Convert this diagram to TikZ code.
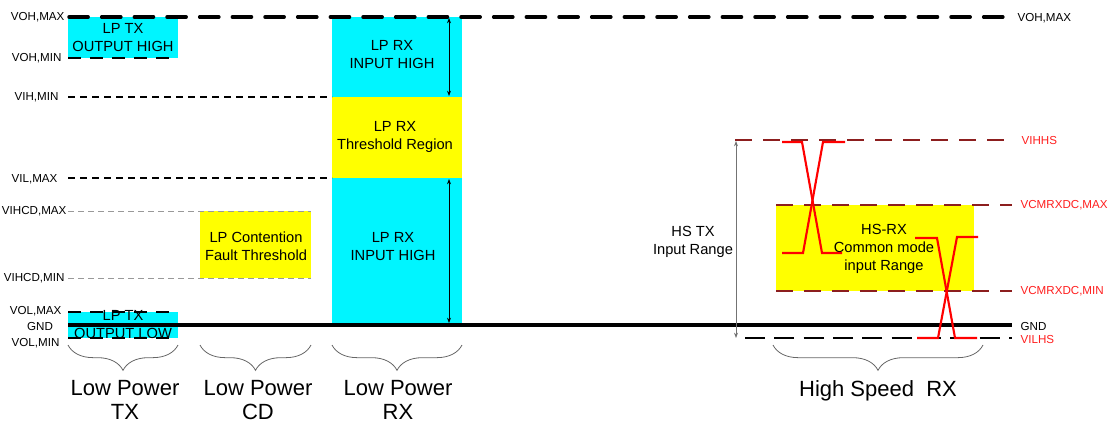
\documentclass[tikz,border=0pt]{standalone}
\usepackage{fontspec}
\setmainfont{Liberation Sans}
\usetikzlibrary{fit,decorations.pathreplacing,arrows.meta}
\definecolor{cy}{RGB}{0,245,255}
\definecolor{yl}{RGB}{255,255,0}
\definecolor{dred}{RGB}{140,30,30}
\definecolor{rlbl}{RGB}{255,30,30}
\definecolor{sig}{RGB}{255,0,0}
\begin{document}
\begin{tikzpicture}[x=0.75pt,y=-0.75pt,
  area/.style={inner sep=0pt,outer sep=0pt},
  cyanbox/.style={area,fill=cy},
  yellowbox/.style={area,fill=yl},
  boxtext/.style={inner sep=0pt,align=center,font=\fontsize{11}{13.5}\selectfont},
  lbl/.style={inner sep=1pt,font=\fontsize{8.7}{10}\selectfont},
  rlabel/.style={lbl,text=rlbl},
  biglbl/.style={inner sep=0pt,align=center,font=\fontsize{16.5}{18}\selectfont},
  thickdash/.style={line width=2.6pt,line cap=round,dash pattern=on 14.4pt off 10.1pt},
  meddash/.style={line width=1.4pt,dash pattern=on 10pt off 6.5pt},
  thindash/.style={line width=1pt,dash pattern=on 5pt off 4pt},
  graydash/.style={line width=0.6pt,draw=black!40,dash pattern=on 4.5pt off 3pt},
  reddash/.style={line width=1.2pt,draw=dred,dash pattern=on 13pt off 8pt},
  hsdash/.style={line width=1.9pt,dash pattern=on 15pt off 7pt},
  gndline/.style={line width=2.4pt},
  dimarrow/.style={line width=0.5pt,{Stealth[length=4pt,width=3pt]}-{Stealth[length=4pt,width=3pt]}},
  sigline/.style={line width=1.6pt,draw=sig},
  bracestyle/.style={line width=0.6pt,draw=black!60,decorate,decoration={brace,mirror,amplitude=19pt}}
]
\useasboundingbox (0,0) rectangle (1110,425);

% ---- boxes
\node[cyanbox,fit={(68,17)(178,58)}] (txhigh) {};
\node[boxtext] (txhight) at (123,38) {LP TX\\OUTPUT HIGH};
\node[cyanbox,fit={(68,312)(178,338)}] (txlow) {};
\node[yellowbox,fit={(200,211)(311,278)}] (cd) {};
\node[boxtext] (cdt) at (256,246) {LP Contention\\Fault Threshold};
\node[cyanbox,fit={(332,17)(462,97)}] (rxh1) {};
\node[yellowbox,fit={(332,97)(462,178)}] (rxth) {};
\node[cyanbox,fit={(332,178)(462,325)}] (rxh2) {};
\node[boxtext] (rxh1t) at (392,55) {LP RX\\INPUT HIGH};
\node[boxtext] (rxtht) at (395,137) {LP RX\\Threshold Region};
\node[boxtext] (rxh2t) at (393,247) {LP RX\\INPUT HIGH};
\node[yellowbox,fit={(776,205)(974,291)}] (hsbox) {};
\node[boxtext] (hsboxt) at (884,249) {HS-RX\\Common mode\\input Range};

% ---- level coordinates
\coordinate (ohmaxL) at (69,17);   \coordinate (ohmaxR) at (1012,17);
\coordinate (ohminL) at (68,58);   \coordinate (ohminR) at (178,58);
\coordinate (ihminL) at (68,97);   \coordinate (ihminR) at (332,97);
\coordinate (ilmaxL) at (68,178);  \coordinate (ilmaxR) at (332,178);
\coordinate (cdmaxL) at (68,211);  \coordinate (cdmaxR) at (311,211);
\coordinate (cdminL) at (68,278);  \coordinate (cdminR) at (311,278);
\coordinate (olmaxL) at (68,312);  \coordinate (olmaxR) at (178,312);
\coordinate (gndL) at (68,325);    \coordinate (gndR) at (1012,325);
\coordinate (olminL) at (68,338);  \coordinate (olminR) at (178,338);
\coordinate (ihhsL) at (735,140);  \coordinate (ihhsR) at (1012,140);
\coordinate (cmmaxL) at (776,205); \coordinate (cmmaxR) at (1012,205);
\coordinate (cmminL) at (776,291); \coordinate (cmminR) at (1012,291);
\coordinate (ilhsL) at (745,338);  \coordinate (ilhsR) at (1012,338);

% ---- low text under lines
\node[boxtext] (txlowt) at (123,325) {LP TX\\OUTPUT LOW};

% ---- level lines
\draw[thickdash] (ohmaxL) -- (ohmaxR);
\draw[meddash] (ohminL) -- (ohminR);
\draw[thindash] (ihminL) -- (ihminR);
\draw[thindash] (ilmaxL) -- (ilmaxR);
\draw[graydash] (cdmaxL) -- (cdmaxR);
\draw[graydash] (cdminL) -- (cdminR);
\draw[meddash] (olmaxL) -- (olmaxR);
\draw[meddash] (olminL) -- (olminR);
\draw[gndline] (gndL) -- (gndR);
\draw[reddash] (ihhsL) -- (ihhsR);
\draw[reddash] (cmmaxL) -- (cmmaxR);
\draw[reddash] (cmminL) -- (cmminR);
\draw[hsdash] (ilhsL) -- (ilhsR);

% ---- left labels
\node[lbl,anchor=east] (l1) at (66,17) {VOH,MAX};
\node[lbl,anchor=east] (l2) at (63,58) {VOH,MIN};
\node[lbl,anchor=east] (l3) at (60,97) {VIH,MIN};
\node[lbl,anchor=east] (l4) at (59,179) {VIL,MAX};
\node[lbl,anchor=east] (l5) at (68,211) {VIHCD,MAX};
\node[lbl,anchor=east] (l6) at (66,278) {VIHCD,MIN};
\node[lbl,anchor=east] (l7) at (63,311) {VOL,MAX};
\node[lbl] (l8) at (40,327) {GND};
\node[lbl,anchor=east] (l9) at (61,343) {VOL,MIN};

% ---- right labels
\node[lbl,anchor=west] (r1) at (1016,18) {VOH,MAX};
\node[rlabel,anchor=west] (r2) at (1020,141) {VIHHS};
\node[rlabel,anchor=west] (r3) at (1019,205) {VCMRXDC,MAX};
\node[rlabel,anchor=west] (r4) at (1019,291) {VCMRXDC,MIN};
\node[lbl,anchor=west] (r5) at (1019,327) {GND};
\node[rlabel,anchor=west] (r6) at (1019,340) {VILHS};

% ---- dimension arrows
\coordinate (a1t) at (449,18); \coordinate (a1b) at (449,96);
\coordinate (a2t) at (449,179); \coordinate (a2b) at (449,323);
\draw[dimarrow] (a1t) -- (a1b);
\draw[dimarrow] (a2t) -- (a2b);
\coordinate (hst) at (736,141); \coordinate (hsb) at (736,338);
\draw[dimarrow,draw=black!55] (hst) -- (hsb);
\node[boxtext] (hstx) at (693,242) {HS TX\\Input Range};

% ---- HS signals
\draw[sigline] (782,142) -- (802,142) -- (822,253) -- (842,253);
\draw[sigline] (782,253) -- (803,253) -- (823,142) -- (845,142);
\draw[sigline] (915,238) -- (937,238) -- (955,338) -- (977,338);
\draw[sigline] (917,338) -- (938,338) -- (957,237) -- (978,237);

% ---- braces
\coordinate (b1l) at (68,345);  \coordinate (b1r) at (178,345);
\coordinate (b2l) at (200,345); \coordinate (b2r) at (311,345);
\coordinate (b3l) at (332,345); \coordinate (b3r) at (462,345);
\coordinate (b4l) at (773,345); \coordinate (b4r) at (983,345);
\draw[bracestyle] (b1l) -- (b1r);
\draw[bracestyle] (b2l) -- (b2r);
\draw[bracestyle] (b3l) -- (b3r);
\draw[bracestyle] (b4l) -- (b4r);
\node[biglbl] (g1) at (125,400) {Low Power\\TX};
\node[biglbl] (g2) at (258,400) {Low Power\\CD};
\node[biglbl] (g3) at (398,400) {Low Power\\RX};
\node[biglbl] (g4) at (878,391) {High Speed\ \ RX};
\end{tikzpicture}
\end{document}
